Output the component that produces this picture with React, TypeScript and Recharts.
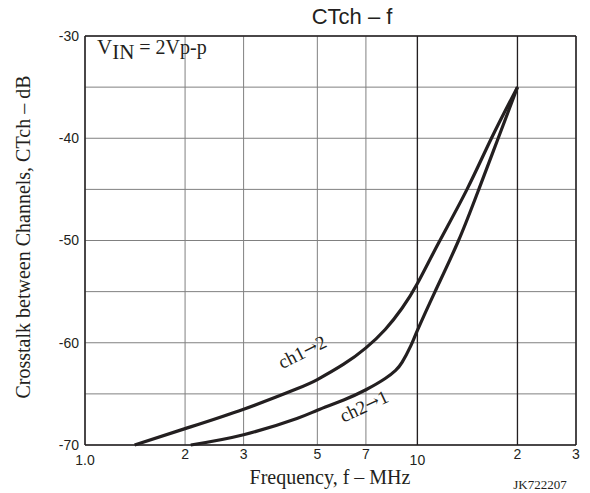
import { LineChart, Line, XAxis, YAxis, CartesianGrid, ReferenceLine, ReferenceDot } from "recharts";

// ch1 -> 2 (upper curve)
const ch12Freq = [1.41, 2, 3, 4.34, 5, 6, 7, 8, 9, 10, 11.6, 14.1, 16.7, 20];
const ch12Ct = [-70, -68.4, -66.5, -64.5, -63.6, -62.1, -60.5, -58.7, -56.6, -54.2, -50.2, -45, -40, -35];

// ch2 -> 1 (lower curve)
const ch21Freq = [2.08, 3, 4.34, 5, 6, 7, 8, 8.6, 9, 9.55, 10, 11.3, 13.3, 15.3, 17.5, 20];
const ch21Ct = [-70, -69.0, -67.4, -66.6, -65.6, -64.6, -63.5, -62.7, -61.9, -60.3, -58.8, -55, -50, -45, -40, -35];

const xTicks = [1, 2, 3, 5, 7, 10, 20, 30];
const xTickLabels = ["1.0", "2", "3", "5", "7", "10", "2", "3"];
const yTicks = [-70, -65, -60, -55, -50, -45, -40, -35, -30];

const ch12 = ch12Freq.map((f, i) => ({ f, ct: ch12Ct[i] }));
const ch21 = ch21Freq.map((f, i) => ({ f, ct: ch21Ct[i] }));

const INK = "#231f20";
const SANS = "'Liberation Sans', Arial, sans-serif";
const SERIF = "'Liberation Serif', 'Times New Roman', serif";

const XTick = (props: any) => {
  const { x, y, payload, index } = props;
  const label = xTickLabels[index] ?? String(payload.value);
  const low = label === "1.0" || label === "10";
  return (
    <text x={x} y={y + (low ? 18 : 12)} textAnchor="middle" fontFamily={SANS} fontSize={14} fill={INK}>
      {label}
    </text>
  );
};

const curveLabel = (from: string, to: string, angle: number) => (p: any) => {
  const vb = p.viewBox || {};
  const cx = vb.x + (vb.width || 0) / 2;
  const cy = vb.y + (vb.height || 0) / 2;
  return (
    <text
      x={cx}
      y={cy}
      textAnchor="middle"
      dominantBaseline="central"
      transform={`rotate(${angle} ${cx} ${cy})`}
      fontFamily={SERIF}
      fontSize={19}
      fill={INK}
    >
      {from}
      <tspan fontFamily="'DejaVu Serif', serif" fontSize={17}>{"\u2192"}</tspan>
      {to}
    </text>
  );
};

export default function App() {
  return (
    <div style={{ position: "absolute", left: 0, top: 0, background: "#fff" }}>
      <LineChart width={590} height={493} margin={{ top: 36, right: 14, bottom: 0, left: 0 }}>
        <CartesianGrid stroke="#808080" strokeWidth={1} />
        <XAxis
          type="number"
          dataKey="f"
          scale="log"
          domain={[1, 30]}
          ticks={xTicks}
          allowDataOverflow
          tick={<XTick />}
          tickLine={false}
          tickSize={0}
          axisLine={{ stroke: INK, strokeWidth: 1.5 }}
          height={48}
        />
        <YAxis
          type="number"
          domain={[-70, -30]}
          ticks={yTicks}
          tickFormatter={(v: number) => (v % 10 === 0 ? String(v) : "")}
          tick={{ fontFamily: SANS, fontSize: 14, fill: INK }}
          tickLine={false}
          tickSize={0}
          tickMargin={6}
          axisLine={{ stroke: INK, strokeWidth: 1.5 }}
          width={85}
        />
        <ReferenceLine x={10} stroke={INK} strokeWidth={1.3} />
        <ReferenceLine x={20} stroke={INK} strokeWidth={1.3} />
        <ReferenceLine x={30} stroke={INK} strokeWidth={1.5} />
        <ReferenceLine y={-30} stroke={INK} strokeWidth={1.5} />
        <Line data={ch12} dataKey="ct" type="natural" stroke={INK} strokeWidth={3.2} dot={false} isAnimationActive={false} />
        <Line data={ch21} dataKey="ct" type="natural" stroke={INK} strokeWidth={3.2} dot={false} isAnimationActive={false} />
        <ReferenceDot x={4.5} y={-60.9} r={1} fill="none" stroke="none" label={{ content: curveLabel("ch1", "2", -27) }} />
        <ReferenceDot x={6.9} y={-66.2} r={1} fill="none" stroke="none" label={{ content: curveLabel("ch2", "1", -25) }} />
        <text x={352} y={24} textAnchor="middle" fontFamily={SANS} fontSize={22} fill={INK}>
          CTch – f
        </text>
        <text x={97} y={54} fontFamily={SERIF} fontSize={21} fill={INK}>
          V<tspan dy={5}>IN</tspan>
          <tspan dy={-5} fontSize={20}> = 2Vp-p</tspan>
        </text>
        <text
          x={0}
          y={0}
          transform="translate(30 237) rotate(-90)"
          textAnchor="middle"
          fontFamily={SERIF}
          fontSize={20}
          fill={INK}
        >
          Crosstalk between Channels, CTch – dB
        </text>
        <text x={330} y={484} textAnchor="middle" fontFamily={SERIF} fontSize={20} fill={INK}>
          Frequency, f – MHz
        </text>
        <text x={540} y={489} textAnchor="middle" fontFamily={SERIF} fontSize={13} fill={INK}>
          JK722207
        </text>
      </LineChart>
    </div>
  );
}
